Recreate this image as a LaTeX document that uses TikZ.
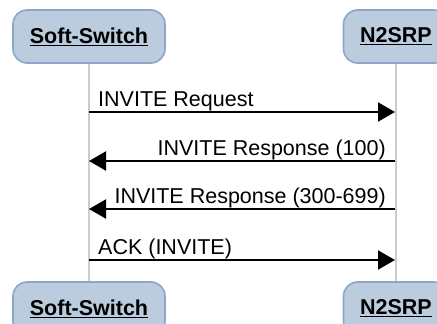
\documentclass[tikz,border=0pt]{standalone}
\usepackage{fontspec}
\setmainfont{Liberation Sans}
\usetikzlibrary{arrows.meta,positioning}
\definecolor{actorfill}{RGB}{186,204,221}
\definecolor{actorline}{RGB}{142,166,200}
\definecolor{lifegray}{RGB}{204,204,204}
\tikzset{
  actor/.style={draw=actorline, fill=actorfill, line width=1.6pt, rounded corners=14pt,
    minimum height=53pt, font=\fontsize{21.5}{26}\selectfont\bfseries},
  lifeline/.style={draw=lifegray, line width=1.5pt},
  msg/.style={line width=2pt, -{Triangle[length=17pt,width=19pt]}},
  lbl/.style={inner sep=0pt, font=\fontsize{21.5}{26}\selectfont}
}
\begin{document}
\begin{tikzpicture}[x=1pt, y=-1pt]
  \useasboundingbox (0,0) rectangle (437,324);
  % actors
  \node[actor, minimum width=152pt] (ssTop) at (89,36.5) {\underline{Soft-Switch}};
  \node[actor, minimum width=105pt] (nrTop) at (396,36.5) {\underline{N2SRP}};
  \node[actor, minimum width=152pt] (ssBot) at (89,308.5) {\underline{Soft-Switch}};
  \node[actor, minimum width=105pt] (nrBot) at (396,308.5) {\underline{N2SRP}};

  % lifelines
  \draw[lifeline] (ssTop) -- (ssBot);
  \draw[lifeline] (nrTop) -- (nrBot);

  % messages
  \coordinate (ss1) at (89,112);  \coordinate (nr1) at (395,112);
  \coordinate (ss2) at (89,161);  \coordinate (nr2) at (395,161);
  \coordinate (ss3) at (89,209);  \coordinate (nr3) at (395,209);
  \coordinate (ss4) at (89,260);  \coordinate (nr4) at (395,260);

  \draw[msg] (ss1) -- (nr1);
  \draw[msg] (nr2) -- (ss2);
  \draw[msg] (nr3) -- (ss3);
  \draw[msg] (ss4) -- (nr4);

  \node[lbl, anchor=base west] (t1) at ([xshift=9pt,yshift=6pt]ss1) {INVITE Request};
  \node[lbl, anchor=base east] (t2) at ([xshift=-9pt,yshift=6pt]nr2) {INVITE Response (100)};
  \node[lbl, anchor=base east] (t3) at ([xshift=-9pt,yshift=6pt]nr3) {INVITE Response (300-699)};
  \node[lbl, anchor=base west] (t4) at ([xshift=9pt,yshift=6pt]ss4) {ACK (INVITE)};
\end{tikzpicture}
\end{document}
